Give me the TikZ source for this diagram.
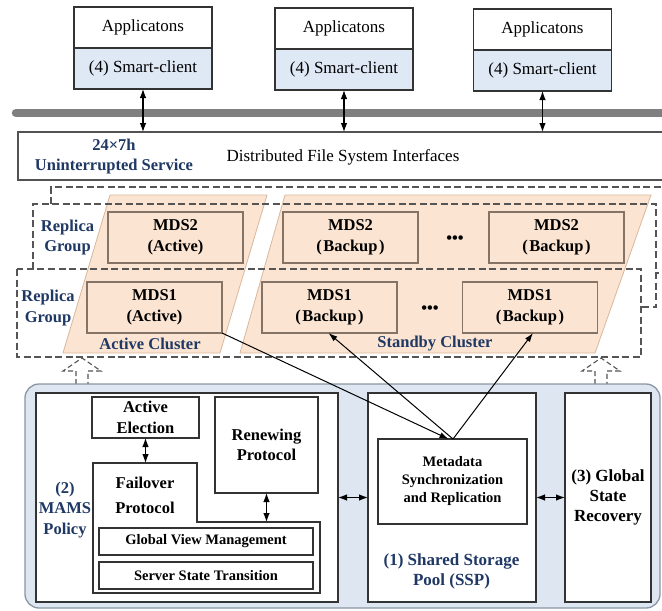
\documentclass[tikz,border=0pt]{standalone}
\usepackage{fontspec}
\setmainfont{Liberation Serif}
\usetikzlibrary{arrows.meta}
\definecolor{navy}{HTML}{1F3864}
\definecolor{peach}{HTML}{FBE4D2}
\definecolor{peachline}{HTML}{D9B89C}
\definecolor{mdsline}{HTML}{857466}
\definecolor{scblue}{HTML}{DFE8F5}
\definecolor{contblue}{HTML}{DDE6F1}
\definecolor{contline}{HTML}{8A96A3}
\definecolor{boxline}{HTML}{333333}
\definecolor{dashc}{HTML}{555555}
\definecolor{barc}{HTML}{7F7F7F}
\begin{document}
\begin{tikzpicture}[x=1pt,y=-1pt,
 every node/.style={inner sep=0pt, outer sep=0pt},
 plainbox/.style={draw=boxline, line width=1.35pt, fill=white, rectangle},
 appbox/.style={plainbox, minimum width=138pt, minimum height=41pt, font=\fontsize{17}{20}\selectfont},
 scbox/.style={appbox, fill=scblue},
 mdsbox/.style={draw=mdsline, line width=1.4pt, fill=peach, minimum width=135pt, minimum height=51pt, align=center, font=\fontsize{16.5}{21.5}\selectfont\bfseries},
 bl/.style={font=\fontsize{16.5}{20.5}\selectfont\bfseries, align=center},
 nl/.style={bl, text=navy},
 sm/.style={font=\fontsize{14.5}{18}\selectfont\bfseries, align=center},
 dl/.style={draw=dashc, line width=1.3pt, dash pattern=on 7pt off 3.5pt},
 conn/.style={line width=1pt, -{Latex[length=9pt,width=6pt]}},
 biconn/.style={line width=1.1pt, {Latex[length=9pt,width=6.5pt]}-{Latex[length=9pt,width=6.5pt]}},
 clus/.style={fill=peach, draw=peachline, line width=0.8pt},
]
\useasboundingbox (0,0) rectangle (662,611);
\fill[white] (0,0) rectangle (662,611);

% ---------- top: applications ----------
\node[appbox] (app1) at (143,27.5) {Applicatons};
\node[scbox]  (sc1)  at (143,68.5) {(4) Smart-client};
\node[appbox] (app2) at (344,28.5) {Applicatons};
\node[scbox]  (sc2)  at (344,69.5) {(4) Smart-client};
\node[appbox] (app3) at (542.5,29.5) {Applicatons};
\node[scbox]  (sc3)  at (542.5,70.5) {(4) Smart-client};

\draw[barc, line width=8.5pt, line cap=round] (16,113) -- (690,113);

\node[draw=boxline!85, line width=1.2pt, fill=white, minimum width=690pt, minimum height=48pt, anchor=north west] (ifbox) at (18,132) {};
\node[nl, font=\fontsize{16.5}{20}\selectfont\bfseries] (svc) at (114,157) {24×7h\\Uninterrupted Service};
\node[font=\fontsize{17}{20}\selectfont] (dfs) at (343,157) {Distributed File System Interfaces};

\draw[biconn] (sc1.south) -- (sc1.south |- ifbox.north);
\draw[biconn] (sc2.south) -- (sc2.south |- ifbox.north);
\draw[biconn] (sc3.south) -- (sc3.south |- ifbox.north);

% ---------- clusters ----------
\draw[clus] (110,195) -- (267,195) -- (220,353) -- (63,353) -- cycle;
\draw[clus] (285,195) -- (651,195) -- (595,353) -- (240,353) -- cycle;

\node[mdsbox] (mds2a)  at (175.5,237.5) {MDS2\\(Active)};
\node[mdsbox] (mds1a)  at (154.5,307.5) {MDS1\\(Active)};
\node[mdsbox] (mds2b1) at (350.5,237.5) {MDS2\\(\kern1.5pt Backup\kern1.5pt)};
\node[mdsbox] (mds2b2) at (556.5,237.5) {MDS2\\(\kern1.5pt Backup\kern1.5pt)};
\node[mdsbox] (mds1b1) at (329.5,307.5) {MDS1\\(\kern1.5pt Backup\kern1.5pt)};
\node[mdsbox] (mds1b2) at (530,307.5) {MDS1\\(\kern1.5pt Backup\kern1.5pt)};

\node[bl] (dots2) at (455,240) {\textbullet\textbullet\textbullet};
\node[bl] (dots1) at (430,310) {\textbullet\textbullet\textbullet};

\node[nl] (acl) at (150,344) {Active Cluster};
\node[nl] (scl) at (435,344) {Standby Cluster};
\node[nl] (rg2) at (67.5,237.5) {Replica\\Group};
\node[nl] (rg1) at (48,308) {Replica\\Group};

% dashed replica-group frames
\draw[dl] (51,204) -- (51,187) -- (690,187);
\draw[dl] (690,273) -- (656,273);
\draw[dl] (33,269) -- (33,204) -- (656,204) -- (656,307) -- (641,307);
\draw[dl] (17,269) rectangle (641,357);

% hollow dashed arrows
\draw[dl, line width=1.1pt, dash pattern=on 5pt off 3pt] (76,384) -- (76,371) -- (63,371) -- (82,358) -- (101,371) -- (88,371) -- (88,384);
\draw[dl, line width=1.1pt, dash pattern=on 5pt off 3pt] (595,384) -- (595,371) -- (582,371) -- (601,358) -- (620,371) -- (607,371) -- (607,384);

% ---------- bottom container ----------
\draw[fill=contblue, draw=contline, line width=1.3pt, rounded corners=14pt] (25,384) rectangle (660,608);

\node[plainbox, minimum width=302pt, minimum height=209pt] (mams) at (187,497.5) {};
\node[plainbox, minimum width=168pt, minimum height=209pt] (ssp)  at (452,497.5) {};
\node[plainbox, minimum width=86pt,  minimum height=209pt, bl, font=\fontsize{17}{20}\selectfont\bfseries] (gsr) at (608,497.5) {(3) Global\\State\\Recovery};

\node[plainbox, bl, minimum width=107pt, minimum height=41pt] (ae) at (145.5,417.5) {Active\\Election};
\node[plainbox, bl, minimum width=103pt, minimum height=96pt] (rp) at (266.5,445) {Renewing\\Protocol};

\draw[plainbox] (93,463) -- (197,463) -- (197,522) -- (320,522) -- (320,593) -- (93,593) -- cycle;
\node[bl, font=\fontsize{16.5}{25}\selectfont\bfseries] (fo) at (145,495.5) {Failover\\Protocol};
\coordinate (fotop) at (145,463);
\coordinate (fostep) at (266.5,522);

\node[plainbox, sm, minimum width=214pt, minimum height=27pt] (gvm) at (206,541.5) {Global View Management};
\node[plainbox, sm, minimum width=214pt, minimum height=27pt] (sst) at (206,575.5) {Server State Transition};

\node[plainbox, sm, minimum width=149pt, minimum height=85pt, font=\fontsize{14.5}{18}\selectfont\bfseries] (meta) at (452.5,481.5) {Metadata\\Synchronization\\and Replication};

\node[nl] (mamsl) at (65,510) {(2)\\MAMS\\Policy};
\node[nl, font=\fontsize{17}{19.5}\selectfont\bfseries] (sspl) at (451.5,571.5) {(1) Shared Storage\\Pool (SSP)};

\draw[biconn] (ae.south) -- (ae.south |- fotop);
\draw[biconn] (rp.south) -- (rp.south |- fostep);
\draw[biconn] (mams.east) -- (ssp.west);
\draw[biconn] (ssp.east) -- (gsr.west);

% replication connectors
\draw[conn] (mds1a.south east) -- ([xshift=-4pt]meta.north);
\draw[conn] ([xshift=0.5pt]meta.north) -- ([xshift=-1pt]mds1b1.south);
\draw[conn] ([xshift=0.5pt]meta.north) -- ([xshift=3pt]mds1b2.south);
\end{tikzpicture}
\end{document}
